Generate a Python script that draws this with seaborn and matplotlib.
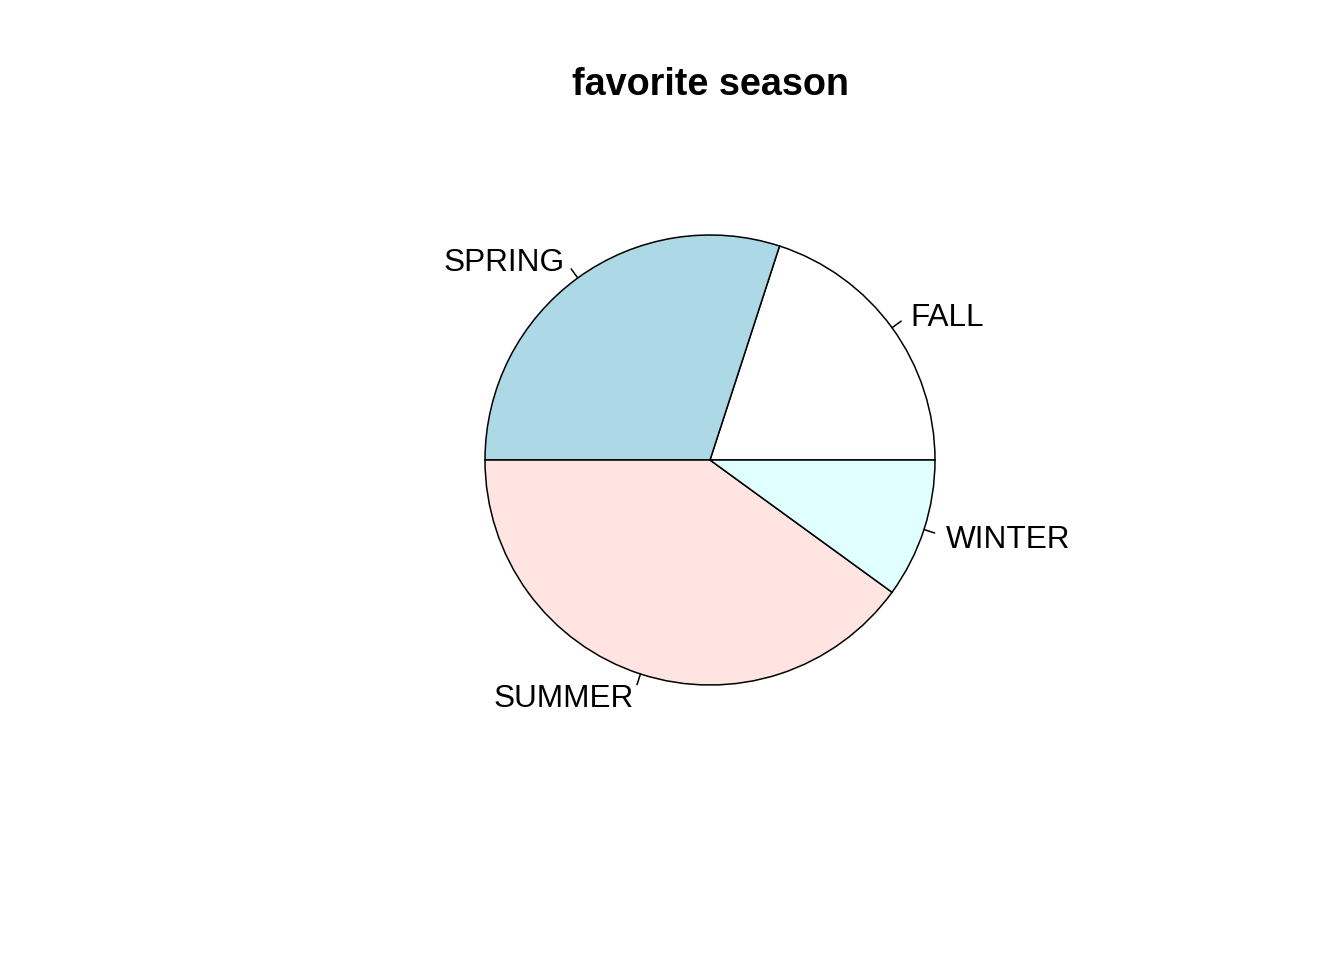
import numpy as np
import seaborn as sns
import matplotlib
matplotlib.use('Agg')
import matplotlib.pyplot as plt

# data (shares of respondents)
seasons = ['FALL', 'SPRING', 'SUMMER', 'WINTER']
votes = [2, 3, 4, 1]
slice_colors = ['white', 'lightblue', 'mistyrose', 'lightcyan']

sns.set_theme(style='white')
plt.rcParams['font.family'] = ['Liberation Sans', 'DejaVu Sans']
plt.rcParams['text.color'] = 'black'

fig = plt.figure(figsize=(13.44, 9.6), dpi=100)
ax = fig.add_axes([0, 0, 1, 1])

cx, cy, r = 710, 500, 225

wedges, texts = ax.pie(votes,
                       labels=seasons,
                       colors=slice_colors,
                       startangle=0,
                       counterclock=True,
                       radius=r,
                       center=(cx, cy),
                       labeldistance=1.1,
                       wedgeprops=dict(edgecolor='black', linewidth=1.1),
                       textprops=dict(fontsize=22.7, color='black'),
                       frame=True)
ax.set_xlim(0, 1344)
ax.set_ylim(0, 960)
ax.set_aspect('equal')
ax.axis('off')

# R-style ticks from the rim out to 1.05 radius, labels aligned by side
for w, t in zip(wedges, texts):
    mid = np.deg2rad((w.theta1 + w.theta2) / 2)
    ax.plot([cx + r * np.cos(mid), cx + 1.05 * r * np.cos(mid)],
            [cy + r * np.sin(mid), cy + 1.05 * r * np.sin(mid)],
            color='black', lw=1.1)
    t.set_horizontalalignment('left' if np.cos(mid) > 0 else 'right')
    t.set_verticalalignment('center_baseline')

ax.text(cx, 960 - 81, 'favorite season', ha='center', va='center_baseline',
        fontsize=27.2, fontweight='bold', color='black')

plt.savefig('out.png', dpi=100)
